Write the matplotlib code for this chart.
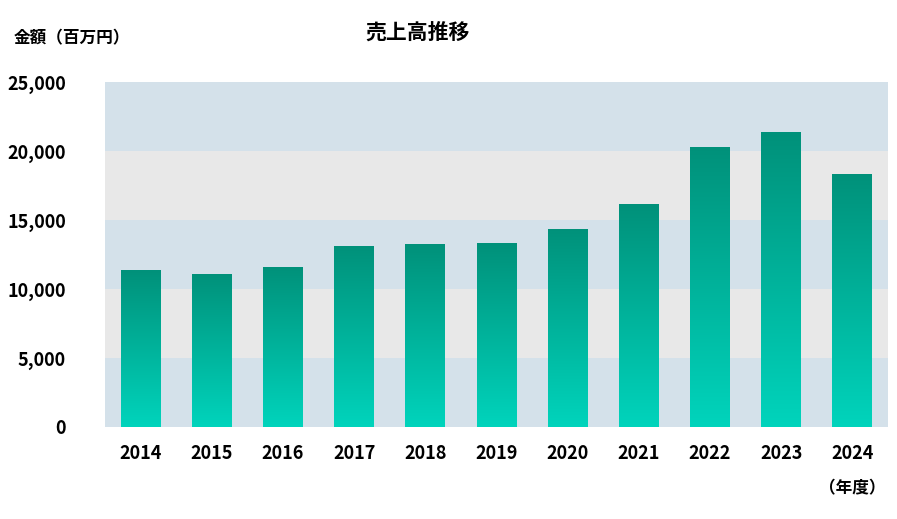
import numpy as np
import matplotlib.pyplot as plt
from matplotlib.colors import LinearSegmentedColormap

plt.rcParams["font.family"] = ["Noto Sans CJK JP", "DejaVu Sans"]

years = ["2014", "2015", "2016", "2017", "2018", "2019", "2020", "2021", "2022", "2023", "2024"]
sales = [11350, 11100, 11600, 13150, 13250, 13300, 14350, 16150, 20300, 21350, 18350]

fig = plt.figure(figsize=(8.97, 5.19), dpi=100)
ax = fig.add_axes([105 / 897, 92 / 519, 783 / 897, 345 / 519])

# alternating background bands
for i, lo in enumerate(range(0, 25000, 5000)):
    ax.axhspan(lo, lo + 5000, color="#d4e1ea" if i % 2 == 0 else "#e8e8e8", zorder=0, lw=0)

cmap = LinearSegmentedColormap.from_list("g", ["#00d4bc", "#00917a"])
grad = np.linspace(0, 1, 256).reshape(-1, 1)
x = np.arange(len(years))
w = 0.56
bars = ax.bar(x, sales, width=w, color="none", zorder=2)
for b, v in zip(bars, sales):
    x0 = b.get_x()
    im = ax.imshow(grad, extent=[x0, x0 + w, 0, v], origin="lower", cmap=cmap,
                   aspect="auto", zorder=2)
    im.set_clip_path(b)

ax.set_xlim(-0.5, len(years) - 0.5)
ax.set_ylim(0, 25000)
ax.set_xticks(x)
ax.set_xticklabels(years, fontsize=13, fontweight="bold")
ax.set_yticks(range(0, 25001, 5000))
ax.set_yticklabels([f"{v:,}" for v in range(0, 25001, 5000)], fontsize=13, fontweight="bold")
ax.tick_params(length=0, pad=12)
ax.tick_params(axis="y", pad=28)
for s in ax.spines.values():
    s.set_visible(False)

fig.text(72 / 897, 1 - 38 / 519, "金額（百万円）", fontsize=12, fontweight="bold", ha="center", va="center")
fig.text(418 / 897, 1 - 32 / 519, "売上高推移", fontsize=15, fontweight="bold", ha="center", va="center")
fig.text(852 / 897, 1 - 488 / 519, "（年度）", fontsize=12, fontweight="bold", ha="center", va="center")

fig.savefig("out.png", dpi=100)
